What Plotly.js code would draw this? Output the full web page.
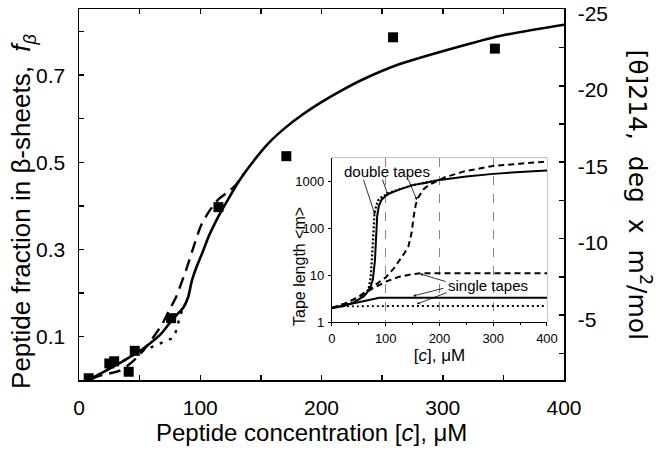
<!DOCTYPE html>
<html>
<head>
<meta charset="utf-8">
<script src="https://cdn.plot.ly/plotly-3.0.1.min.js"></script>
<style>html,body{margin:0;padding:0;background:#fff;}#chart{width:669px;height:454px;}</style>
</head>
<body>
<div id="chart"></div>
<script>
// ---- Main plot data ----
const expConc = [8, 25, 29, 41, 46, 76, 115, 171, 259, 343];
const expFrac = [0.004, 0.038, 0.043, 0.019, 0.067, 0.142, 0.397, 0.514, 0.787, 0.761];

const solidConc = [8, 20, 33, 45, 52, 60, 68, 74, 80, 86, 90, 93, 97, 102, 107, 113, 122, 132, 144, 156, 170, 185, 201, 216, 234, 264, 305, 347, 400];
const solidFrac = [0.0, 0.018, 0.038, 0.058, 0.07, 0.087, 0.107, 0.128, 0.148, 0.166, 0.19, 0.227, 0.26, 0.294, 0.33, 0.365, 0.41, 0.457, 0.503, 0.543, 0.579, 0.611, 0.640, 0.664, 0.690, 0.725, 0.759, 0.79, 0.816];

const dashConc = [10, 16, 25, 33, 41, 49, 56, 63, 69, 74, 80, 85, 89, 95, 101, 108, 115, 122, 129, 136];
const dashFrac = [0.002, 0.009, 0.015, 0.021, 0.035, 0.055, 0.078, 0.105, 0.13, 0.158, 0.19, 0.227, 0.258, 0.31, 0.357, 0.39, 0.415, 0.43, 0.447, 0.474];

const dotConc = [8, 20, 33, 45, 55, 62, 70, 78, 81, 83, 86];
const dotFrac = [0.0, 0.018, 0.038, 0.058, 0.07, 0.078, 0.087, 0.097, 0.12, 0.145, 0.166];

// ---- Inset data (tape length <m>) ----
const dblSolidC = [0, 20, 40, 60, 70, 76, 80, 82, 84, 87, 92, 100, 108, 125, 150, 175, 200, 250, 300, 350, 400];
const dblSolidM = [2.0, 2.2, 2.6, 3.6, 5, 8, 21, 60, 180, 300, 410, 500, 570, 680, 850, 960, 1100, 1300, 1480, 1620, 1740];

const dblDotC = [0, 20, 40, 60, 68, 72, 75, 77, 79, 82, 86, 92, 100, 110, 125, 150, 200];
const dblDotM = [2.0, 2.2, 2.6, 3.6, 5, 9, 30, 100, 200, 300, 400, 470, 530, 600, 690, 850, 1100];

const dblDashC = [0, 25, 50, 75, 100, 115, 126, 135, 142, 148, 152, 156, 160, 170, 180, 192, 210, 244, 270, 300, 350, 400];
const dblDashM = [2.0, 2.5, 3.5, 5.5, 9, 14, 21, 30, 41, 80, 180, 330, 450, 690, 850, 1000, 1250, 1650, 1900, 2190, 2450, 2700];

const sglDashC = [0, 25, 50, 75, 100, 125, 150, 165, 200, 300, 400];
const sglDashM = [2.0, 2.5, 3.4, 5.2, 7.3, 9.3, 10.6, 11, 11, 11, 11];

const sglSolidC = [0, 25, 50, 75, 88, 100, 200, 300, 400];
const sglSolidM = [2.0, 2.3, 2.6, 3.0, 3.3, 3.3, 3.3, 3.3, 3.3];

const sglDotC = [0, 20, 100, 200, 300, 400];
const sglDotM = [2.0, 2.15, 2.2, 2.2, 2.2, 2.2];

// ---- Tick labels ----
const mainXTicks = [0, 50, 100, 150, 200, 250, 300, 350, 400];
const mainXText  = ['0', '', '100', '', '200', '', '300', '', '400'];
const mainYTicks = [0.1, 0.2, 0.3, 0.4, 0.5, 0.6, 0.7, 0.8];
const mainYText  = ['0.1', '', '0.3', '', '0.5', '', '0.7', ''];
const rightTicks = [-25, -22.5, -20, -17.5, -15, -12.5, -10, -7.5, -5, -2.5];
const rightText  = ['-25', '', '-20', '', '-15', '', '-10', '', '-5', ''];
const insetXTicks = [0, 100, 200, 300, 400];
const insetXText  = ['0', '100', '200', '300', '400'];
const insetYTicks = [1, 10, 100, 1000];
const insetYText  = ['1', '10', '100', '1000'];

const FONT = 'Liberation Sans, Arial, Helvetica, sans-serif';

const traces = [
  {x: solidConc, y: solidFrac, mode: 'lines', line: {color: 'black', width: 2.6, shape: 'spline', smoothing: 0.7}, xaxis: 'x', yaxis: 'y'},
  {x: dashConc, y: dashFrac, mode: 'lines', line: {color: 'black', width: 2.4, dash: '12px,7px', shape: 'spline', smoothing: 0.7}, xaxis: 'x', yaxis: 'y'},
  {x: dotConc, y: dotFrac, mode: 'lines', line: {color: 'black', width: 2.4, dash: '3px,7px'}, xaxis: 'x', yaxis: 'y'},
  {x: expConc, y: expFrac, mode: 'markers', marker: {symbol: 'square', size: 10, color: 'black'}, xaxis: 'x', yaxis: 'y'},
  {x: [], y: [], mode: 'markers', xaxis: 'x', yaxis: 'y2', showlegend: false},
  // inset
  {x: dblSolidC, y: dblSolidM, mode: 'lines', line: {color: 'black', width: 2}, xaxis: 'x2', yaxis: 'y3'},
  {x: dblDotC, y: dblDotM, mode: 'lines', line: {color: 'black', width: 2.2, dash: '2px,2px'}, xaxis: 'x2', yaxis: 'y3'},
  {x: dblDashC, y: dblDashM, mode: 'lines', line: {color: 'black', width: 2, dash: '6px,4px'}, xaxis: 'x2', yaxis: 'y3'},
  {x: sglDashC, y: sglDashM, mode: 'lines', line: {color: 'black', width: 2, dash: '6px,4px'}, xaxis: 'x2', yaxis: 'y3'},
  {x: sglSolidC, y: sglSolidM, mode: 'lines', line: {color: 'black', width: 2}, xaxis: 'x2', yaxis: 'y3'},
  {x: sglDotC, y: sglDotM, mode: 'lines', line: {color: 'black', width: 1.8, dash: '2px,3px'}, xaxis: 'x2', yaxis: 'y3'}
];

function arrow(hx, hy, tx, ty) {
  return {xref: 'x2', yref: 'y3', axref: 'x2', ayref: 'y3', x: hx, y: hy, ax: tx, ay: ty,
          text: '', showarrow: true, arrowhead: 2, arrowsize: 0.7, arrowwidth: 0.8, arrowcolor: 'black', standoff: 0};
}

const layout = {
  width: 669, height: 454,
  margin: {l: 79, r: 105, t: 9, b: 74, pad: 0},
  paper_bgcolor: 'white', plot_bgcolor: 'white',
  showlegend: false,
  font: {family: FONT, color: 'black', size: 20},
  xaxis: {
    range: [0, 400], tickmode: 'array', tickvals: mainXTicks, ticktext: mainXText,
    ticks: 'inside', ticklen: 5, tickwidth: 1.5, tickcolor: 'black',
    showline: true, linewidth: 1.5, linecolor: 'black', mirror: 'ticks',
    showgrid: false, zeroline: false, tickfont: {size: 21}, ticklabelstandoff: 8
  },
  yaxis: {
    range: [0, 0.852], tickmode: 'array', tickvals: mainYTicks, ticktext: mainYText,
    ticks: 'inside', ticklen: 5, tickwidth: 1.5, tickcolor: 'black',
    showline: true, linewidth: 1.5, linecolor: 'black', mirror: true,
    showgrid: false, zeroline: false, tickfont: {size: 21}, ticklabelstandoff: 8
  },
  yaxis2: {
    overlaying: 'y', side: 'right', anchor: 'x',
    range: [-0.76, -25.02], tickmode: 'array', tickvals: rightTicks, ticktext: rightText,
    ticks: 'inside', ticklen: 5, tickwidth: 1.5, tickcolor: 'black',
    showline: true, linewidth: 1.5, linecolor: 'black', ticklabeloverflow: 'allow',
    ticklabelshift: -4,
    showgrid: false, zeroline: false, tickfont: {size: 21}, ticklabelstandoff: 8
  },
  xaxis2: {
    domain: [0.5216, 0.9649], anchor: 'y3',
    range: [0, 400], tickmode: 'array', tickvals: insetXTicks, ticktext: insetXText,
    ticks: 'outside', ticklen: 3, tickwidth: 1, tickcolor: 'black',
    minor: {dtick: 50, tick0: 0, ticks: 'outside', ticklen: 2, tickcolor: 'black', showgrid: false},
    showline: true, linewidth: 1.2, linecolor: 'black',
    showgrid: true, gridcolor: '#666', gridwidth: 0.8, griddash: 'dash',
    zeroline: false, tickfont: {size: 13}, ticklabelstandoff: 1,
    title: {text: '[<i>c</i>], μM', font: {size: 17}, standoff: 4}
  },
  yaxis3: {
    domain: [0.1563, 0.5984], anchor: 'x2', type: 'log',
    range: [0, 3.51], tickmode: 'array', tickvals: insetYTicks, ticktext: insetYText,
    ticks: 'outside', ticklen: 3, tickwidth: 1, tickcolor: 'black',
    showline: true, linewidth: 1.2, linecolor: 'black',
    showgrid: false, zeroline: false, tickfont: {size: 13}, ticklabelstandoff: 1
  },
  shapes: [
    {type: 'rect', xref: 'x2 domain', yref: 'y3 domain', x0: 0, x1: 1, y0: 0, y1: 1,
     fillcolor: 'white', line: {color: '#888', width: 1}, layer: 'below'}
  ],
  annotations: [
    // main axis titles
    {xref: 'paper', yref: 'paper', x: 0.479, y: 0, yshift: -52, xanchor: 'center', yanchor: 'middle',
     text: 'Peptide concentration [<i>c</i>], μM', showarrow: false, font: {size: 24}},
    {xref: 'paper', yref: 'paper', x: 0, xshift: -56, y: 0.453, xanchor: 'center', yanchor: 'middle',
     text: 'Peptide fraction in β-sheets,  <i>f</i><sub><i>β</i></sub>', textangle: -90, showarrow: false, font: {size: 26}},
    {xref: 'paper', yref: 'paper', x: 1, xshift: 75, y: 0.5, xanchor: 'center', yanchor: 'middle',
     text: '[θ]214,  deg  x  m<sup>2</sup>/mol', textangle: 90, showarrow: false,
     font: {size: 25, family: 'DejaVu Sans, Liberation Sans, Arial, sans-serif'}},
    // inset y title
    {xref: 'x2 domain', yref: 'y3 domain', x: 0, xshift: -33, y: 0.5, yshift: -26, xanchor: 'center', yanchor: 'middle',
     text: 'Tape length &lt;m&gt;', textangle: -90, showarrow: false, font: {size: 16}},
    // inset labels
    {xref: 'x2', yref: 'y3', x: 102, y: 3.23, text: 'double tapes', showarrow: false, font: {size: 15}},
    {xref: 'x2', yref: 'y3', x: 290, y: 0.79, text: 'single tapes', showarrow: false, font: {size: 15}},
    arrow(80, 2.29, 57.7, 3.08),
    arrow(104, 2.72, 93, 3.08),
    arrow(158, 2.61, 141, 3.08),
    arrow(164, 1.03, 214, 0.857),
    arrow(151, 0.557, 210, 0.73),
    arrow(158, 0.385, 216, 0.64)
  ]
};

Plotly.newPlot('chart', traces, layout, {displayModeBar: false, staticPlot: true});
</script>
</body>
</html>
